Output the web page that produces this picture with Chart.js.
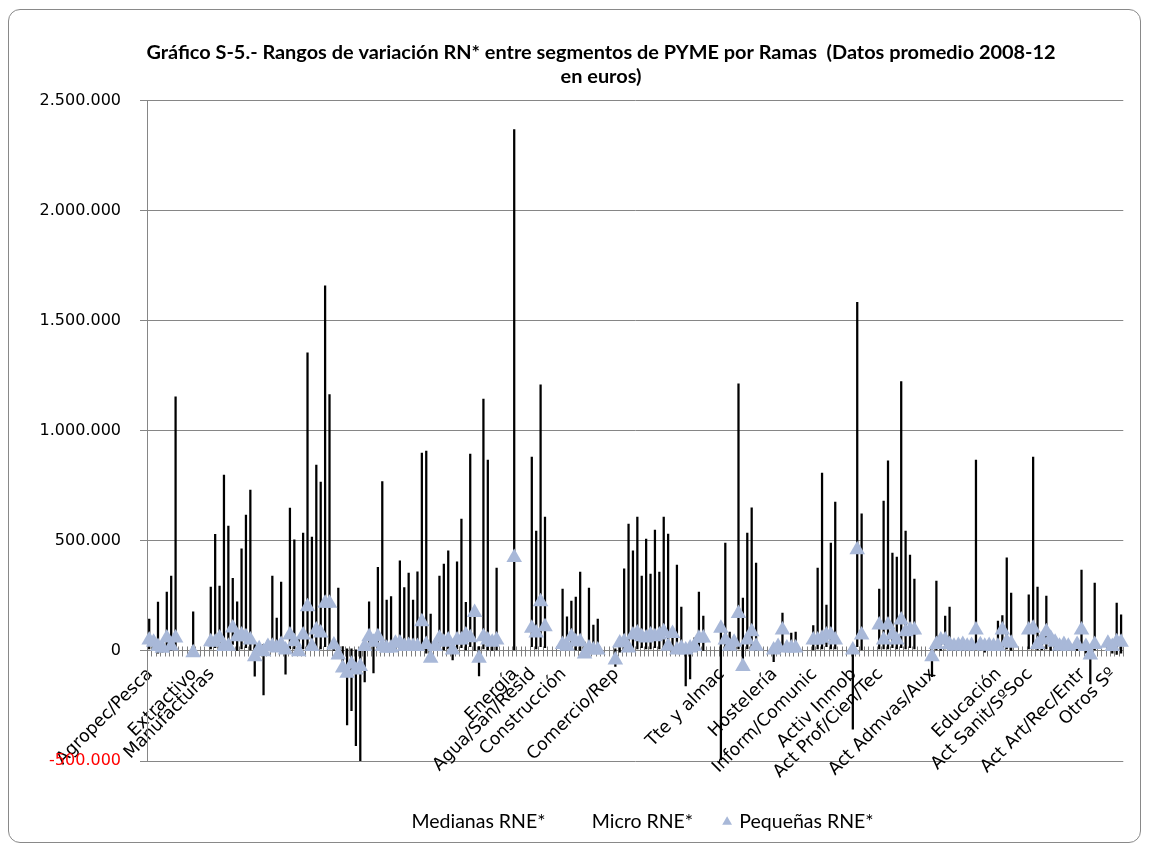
<!DOCTYPE html>
<html>
<head>
<meta charset="utf-8">
<title>Gráfico S-5</title>
<script src="https://cdn.jsdelivr.net/npm/chart.js@4.4.1/dist/chart.umd.min.js"></script>
<style>
    html, body { margin: 0; padding: 0; background: #fff; }
    #wrap { position: relative; width: 1149px; height: 845px; }
    #marco { position: absolute; left: 8px; top: 9px; width: 1131px; height: 832px; border: 1px solid #898989; border-radius: 12px; }
    #grafico { position: absolute; left: 0; top: 0; }
</style>
</head>
<body>
<div id="wrap">
    <div id="marco"></div>
    <canvas id="grafico" width="1149" height="845"></canvas>
</div>
<script>
(function(){
    'use strict';
// --------datos (miles de euros)------
    const ramas = ['Agropec/Pesca', 'Extractivo', 'Manufacturas', 'Energía', 'Agua/San/Resid', 'Construcción',
        'Comercio/Rep', 'Tte y almac', 'Hostelería', 'Inform/Comunic', 'Activ Inmob', 'Act Prof/Cien/Tec',
        'Act Admvas/Aux', 'Educación', 'Act Sanit/SºSoc', 'Act Art/Rec/Entr', 'Otros Sº'];
    // categoria donde empieza cada rama
    const ramaInicio = [0, 10, 14, 83, 87, 94, 106, 130, 142, 151, 160, 166, 178, 193, 200, 212, 219];

    const medianas = [
        145, 60, 222, 40, 268, 340, 1155, null, null, null,
        178, null, null, null, 290, 530, 295, 800, 568, 330,
        223, 464, 618, 732, 40, 30, 30, 50, 340, 150,
        313, 20, 650, 505, 60, 536, 1355, 518, 845, 768,
        1660, 1165, 50, 286, 20, 10, 10, 5, 5, 20,
        224, 30, 380, 770, 232, 247, 60, 410, 288, 354,
        232, 360, 900, 909, 168, 50, 340, 395, 455, 20,
        405, 600, 221, 895, 190, 20, 1145, 868, 60, 377,
        null, null, null, 2370, null, null, null, 882, 545, 1210,
        609, null, null, null, 282, 155, 227, 245, 359, 40,
        286, 118, 145, null, null, null, 10, 60, 373, 577,
        455, 609, 341, 509, 350, 550, 359, 609, 532, 90,
        391, 200, 10, 10, 60, 268, 159, null, null, null,
        20, 490, 86, 60, 1214, 240, 536, 651, 400, null,
        null, null, 10, 40, 172, 40, 82, 86, null, null,
        null, 115, 377, 809, 209, 490, 677, null, null, null,
        20, 1585, 623, null, null, null, 282, 682, 864, 445,
        427, 1225, 545, 436, 327, null, null, null, 10, 318,
        60, 159, 200, 50, 40, 50, 40, 45, 868, 40,
        40, 35, 30, 136, 161, 423, 263, null, null, null,
        255, 882, 291, 60, 250, 50, 60, 40, 45, 35,
        null, 40, 368, 40, 20, 309, null, null, 45, 40,
        218, 164
    ];
    const micro = [
        10, 0, -10, -5, 5, 0, 10, null, null, null,
        -15, null, null, null, 10, 15, 5, 0, 10, 30,
        0, 10, 15, 5, -114, -20, -200, 0, 5, 0,
        0, -105, 10, 10, -10, 10, 20, 10, 15, 10,
        20, 10, 0, -20, -60, -336, -271, -430, -503, -140,
        0, -100, 5, 10, 0, 5, 0, 5, 10, 5,
        0, 5, 20, -10, -40, 0, 10, 5, 10, -40,
        10, 15, 5, 20, 0, -113, 10, 5, 0, 5,
        null, null, null, 5, null, null, null, 20, 10, 20,
        15, null, null, null, 5, 5, 10, 5, 0, -20,
        -10, 0, -5, null, null, null, -70, -5, 5, 0,
        10, 10, 15, 10, 10, 15, 10, 10, 15, 5,
        5, 0, -159, -127, 0, 10, 0, null, null, null,
        -495, 5, 0, 5, 10, -71, 10, 15, 0, null,
        null, null, -48, -10, 5, 0, 0, 5, null, null,
        null, 5, 10, 10, 20, 10, 10, null, null, null,
        -355, 20, 5, null, null, null, 10, 10, 10, 15,
        10, 15, 10, 15, 10, null, null, null, -117, 5,
        0, 10, 0, 0, 0, 0, 0, 0, 10, 0,
        -5, 0, 0, 5, 10, 10, 0, null, null, null,
        10, 10, 5, 5, 10, 0, 0, 0, 0, 5,
        null, 0, 10, -10, -150, 5, null, null, 0, -10,
        -15, -10
    ];
    const pequenas = [
        50, 40, 20, 12, 59, 23, 59, null, null, null,
        -8, null, null, null, 42, 40, 59, 20, 22, 104,
        65, 73, 65, 50, -26, 10, -3, 20, 22, 14,
        30, 5, 73, 42, -3, 73, 201, 20, 95, 82,
        217, 217, 27, -18, -77, -101, -60, -86, -71, 20,
        65, 40, 65, 20, 12, 14, 35, 36, 20, 25,
        20, 20, 133, 30, -33, 20, 58, 40, 50, 5,
        50, 50, 73, 60, 175, -33, 65, 50, 40, 50,
        null, null, null, 425, null, null, null, 103, 82, 224,
        110, null, null, null, 30, 22, 65, 42, 42, -14,
        14, 5, 5, null, null, null, -41, 36, 42, 14,
        73, 82, 65, 59, 73, 65, 73, 88, 22, 80,
        5, 14, 5, 14, 20, 58, 59, null, null, null,
        103, 50, 22, 40, 171, -71, 50, 88, 22, null,
        null, null, 5, 20, 95, 14, 14, 14, null, null,
        null, 50, 50, 58, 73, 73, 50, null, null, null,
        5, 460, 73, null, null, null, 118, 50, 118, 73,
        50, 141, 88, 95, 95, null, null, null, -26, 30,
        50, 50, 30, 22, 25, 30, 22, 25, 95, 28,
        22, 25, 22, 22, 95, 42, 35, null, null, null,
        95, 103, 30, 50, 88, 58, 40, 22, 30, 22,
        null, 30, 95, 20, -18, 30, null, null, 35, 20,
        42, 40
    ];

    const gris = '#868686';
    const azul = '#A8B8D8';

    // ----etiquetas: solo la primera categoria de cada rama
    const nCat = medianas.length;
    const categorias = [];
    for (let i = 0; i < nCat; i++){
        categorias.push('');
    }
    for (let i = 0; i < ramas.length; i++){
        categorias[ramaInicio[i]] = ramas[i];
    }

    // lineas maximo-minimo de cada categoria
    const rangos = [];
    for (let i = 0; i < nCat; i++){
        if (medianas[i] === null){
            rangos.push(null);
            continue;
        }
        const v = [medianas[i], micro[i], pequenas[i]];
        rangos.push([Math.min(...v), Math.max(...v)]);
    }

    function euros(v){
        const n = Math.round(v * 1000);
        const s = String(Math.abs(n)).replace(/\B(?=(\d{3})+(?!\d))/g, '.');
        return (n < 0 ? '-' : '') + s;
    }

    // marcas en cruz del eje de categorias (cruza en 0)
    const marcasCruz = {
        id: 'marcasCruz',
        beforeDatasetsDraw(chart){
            const x = chart.scales.x;
            const y = chart.scales.y;
            const ctx = chart.ctx;
            const paso = x.getPixelForValue(1) - x.getPixelForValue(0);
            const y0 = Math.round(y.getPixelForValue(0)) + 0.5;
            ctx.save();
            ctx.strokeStyle = '#7f7f7f';
            ctx.lineWidth = 1;
            ctx.beginPath();
            for (let i = 0; i <= nCat; i++){
                const px = Math.round(x.getPixelForValue(i) - paso / 2) + 0.5;
                ctx.moveTo(px, y0 - 5);
                ctx.lineTo(px, y0 + 5);
            }
            ctx.stroke();
            ctx.restore();
        }
    };

    new Chart(document.getElementById('grafico'), {
        type: 'bar',
        data: {
            labels: categorias,
            datasets: [{
                type: 'line',
                label: 'Medianas RNE*',
                data: medianas,
                showLine: false,
                pointRadius: 0,
                pointHoverRadius: 0,
                borderColor: 'rgba(0,0,0,0)',
                backgroundColor: 'rgba(0,0,0,0)'
            }, {
                type: 'line',
                label: 'Micro RNE*',
                data: micro,
                showLine: false,
                pointRadius: 0,
                pointHoverRadius: 0,
                borderColor: 'rgba(0,0,0,0)',
                backgroundColor: 'rgba(0,0,0,0)'
            }, {
                type: 'line',
                label: 'Pequeñas RNE*',
                data: pequenas,
                showLine: false,
                pointStyle: 'triangle',
                pointRadius: 9,
                pointHoverRadius: 9,
                pointBorderWidth: 0,
                borderWidth: 0,
                borderColor: azul,
                backgroundColor: azul
            }, {
                type: 'bar',
                label: 'rango',
                data: rangos,
                backgroundColor: '#000',
                barThickness: 1.6
            }]
        },
        options: {
            responsive: false,
            animation: false,
            layout: {
                // asimetrico para centrar el titulo como en el original
                padding: { left: 35, right: -18, top: 0, bottom: 3.25 }
            },
            plugins: {
                title: {
                    display: true,
                    text: ['Gráfico S-5.- Rangos de variación RN* entre segmentos de PYME por Ramas  (Datos promedio 2008-12', 'en euros)'],
                    color: '#000',
                    font: { family: 'Lato', size: 19.9, weight: 'bold', lineHeight: 1.206 },
                    padding: { top: 41, bottom: 12 }
                },
                legend: {
                    position: 'bottom',
                    fullSize: false,
                    title: {
                        display: true,
                        text: '',
                        padding: 0,
                        font: { size: 10, lineHeight: '19.75px' }
                    },
                    labels: {
                        usePointStyle: true,
                        boxWidth: 5,
                        boxHeight: 8,
                        padding: 31.5,
                        color: '#000',
                        font: { family: 'Lato', size: 19.5 },
                        filter: item => item.datasetIndex < 3,
                        generateLabels(chart){
                            const items = Chart.defaults.plugins.legend.labels.generateLabels(chart);
                            items.forEach(function(it){
                                if (it.datasetIndex < 2){
                                    it.fillStyle = 'rgba(0,0,0,0)';
                                    it.strokeStyle = 'rgba(0,0,0,0)';
                                }
                            });
                            return items;
                        }
                    }
                },
                tooltip: { enabled: false }
            },
            scales: {
                x: {
                    position: { y: 0 },
                    offset: true,
                    grid: { display: false, drawTicks: false, offset: true },
                    border: { display: false },
                    ticks: {
                        autoSkip: false,
                        maxRotation: 45,
                        minRotation: 45,
                        padding: 13,
                        labelOffset: 1,
                        color: '#000',
                        font: { family: 'DejaVu Sans', size: 17.5 }
                    },
                    afterFit(scale){ scale.height = 0; }
                },
                y: {
                    min: -500,
                    max: 2500,
                    ticks: {
                        stepSize: 500,
                        padding: 19,
                        color: ctx => ctx.tick.value < 0 ? '#ff0000' : '#000',
                        font: { family: 'DejaVu Sans', size: 16 },
                        callback: v => euros(v)
                    },
                    grid: { color: gris, tickLength: 7 },
                    border: { color: gris },
                    afterFit(scale){ scale.width = 112; }
                },
                // hueco a la derecha del area de trazado
                y2: {
                    position: 'right',
                    grid: { display: false, drawTicks: false },
                    border: { display: false },
                    ticks: { display: false },
                    afterFit(scale){ scale.width = 36.5; }
                }
            }
        },
        plugins: [marcasCruz]
    });
}());
</script>
</body>
</html>
